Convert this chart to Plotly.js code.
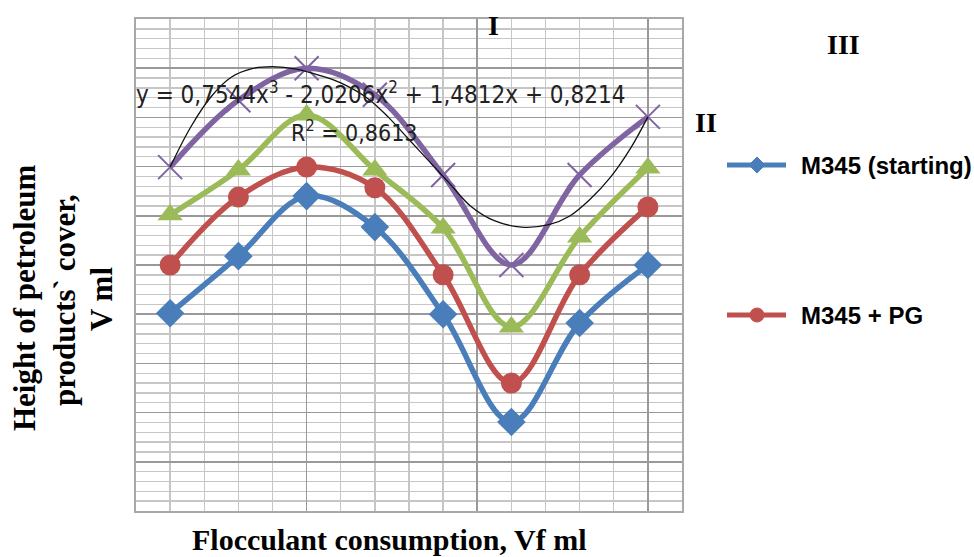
<!DOCTYPE html>
<html><head><meta charset="utf-8">
<script src="https://cdn.plot.ly/plotly-3.0.1.min.js"></script>
<style>html,body{margin:0;padding:0;background:#fff}#chart{width:974px;height:557px}</style>
</head><body><div id="chart"></div>
<script>
// Data (category index 1..8 along the flocculant axis)
const categories = [1, 2, 3, 4, 5, 6, 7, 8];
const m345Starting = [4.02, 5.18, 6.40, 5.77, 4.00, 1.81, 3.82, 5.00];
const m345PG       = [5.00, 6.38, 6.99, 6.57, 4.80, 2.60, 4.80, 6.18];
const seriesIII    = [6.02, 6.93, 8.05, 6.93, 5.75, 3.74, 5.57, 6.97];
const seriesI      = [6.99, 8.35, 9.00, 8.46, 6.83, 5.00, 6.83, 8.01];
// Polynomial trendline
const trendX = [1.0, 1.3, 1.6, 1.9, 2.2, 2.5, 2.85, 3.2, 3.5, 3.9, 4.2, 4.5, 4.8, 5.1, 5.4, 5.75, 6.15, 6.55, 6.85, 7.15, 7.45, 7.75, 8.0];
const trendY = [6.99, 7.80, 8.42, 8.82, 8.99, 9.03, 8.98, 8.85, 8.70, 8.38, 8.00, 7.55, 7.10, 6.65, 6.20, 5.90, 5.77, 5.82, 5.99, 6.33, 6.78, 7.38, 8.01];
const legendNames = ["M345 (starting)", "M345 + PG"];
const equationText = "y = 0,7544x<sup>3</sup> - 2,0206x<sup>2</sup> + 1,4812x + 0,8214";
const r2Text = "R<sup>2</sup> = 0,8613";

const W = 974, H = 557;
const PX = p => p / W, PY = p => 1 - p / H;

const blue = "#4a7ebb", red = "#c0504d", green = "#9bbb59", purple = "#8064a2";

function series(y, color, symbol, size, extra) {
  return Object.assign({
    x: categories, y: y, type: "scatter", mode: "lines+markers",
    line: {color: color, width: 5.5, shape: "spline", smoothing: 1},
    marker: {color: color, symbol: symbol, size: size},
    showlegend: false, hoverinfo: "skip"
  }, extra || {});
}

const traces = [
  series(seriesI, purple, "x-thin", 24, {marker: {color: purple, symbol: "x-thin", size: 24, line: {color: purple, width: 2}}}),
  series(seriesIII, green, "triangle-up", 22),
  series(m345PG, red, "circle", 21),
  series(m345Starting, blue, "diamond", 22),
  {x: trendX, y: trendY, type: "scatter", mode: "lines",
   line: {color: "#111", width: 1.3, shape: "spline", smoothing: 1},
   showlegend: false, hoverinfo: "skip"}
];

const serif = "Liberation Serif, Times New Roman, serif";
const narrow = "Liberation Sans Narrow, DejaVu Sans Condensed, Arial Narrow, sans-serif";
const sans = "Liberation Sans, Arial, sans-serif";

function ann(text, x, y, size, family, extra) {
  return Object.assign({
    text: text, x: PX(x), y: PY(y), xref: "paper", yref: "paper",
    showarrow: false, xanchor: "center", yanchor: "middle",
    font: {family: family, size: size, color: "#000"}
  }, extra || {});
}

const annotations = [
  ann(equationText, 134, 93, 24, narrow, {xanchor: "left", font: {family: narrow, size: 24, color: "#222"}}),
  ann(r2Text, 354, 131, 23, narrow, {font: {family: narrow, size: 23, color: "#222"}}),
  ann("<b>I</b>", 493, 25, 28, serif),
  ann("<b>II</b>", 706, 122, 28, serif),
  ann("<b>III</b>", 843, 45, 28, serif),
  ann("<b>" + legendNames[0] + "</b>", 799, 165, 24, sans, {xanchor: "left"}),
  ann("<b>" + legendNames[1] + "</b>", 799, 315, 24, sans, {xanchor: "left"}),
  ann("<b>Flocculant consumption, Vf ml</b>", 389, 539, 30, serif),
  ann("<b>Height of petroleum</b>", 24, 298, 31, serif, {textangle: -90}),
  ann("<b>products` cover,</b>", 64, 300, 31, serif, {textangle: -90}),
  ann("<b>V ml</b>", 101, 299, 31, serif, {textangle: -90})
];

function diamond(cx, cy, r) {
  return `M ${PX(cx)} ${PY(cy - r)} L ${PX(cx + r)} ${PY(cy)} L ${PX(cx)} ${PY(cy + r)} L ${PX(cx - r)} ${PY(cy)} Z`;
}
const shapes = [
  {type: "line", xref: "paper", yref: "paper", x0: PX(727), x1: PX(786), y0: PY(165), y1: PY(165), line: {color: blue, width: 5}},
  {type: "path", xref: "paper", yref: "paper", path: diamond(757, 165, 8), fillcolor: blue, line: {color: blue, width: 1}},
  {type: "line", xref: "paper", yref: "paper", x0: PX(727), x1: PX(786), y0: PY(315), y1: PY(315), line: {color: red, width: 5}},
  {type: "circle", xref: "paper", yref: "paper", x0: PX(750), x1: PX(764), y0: PY(308), y1: PY(322), fillcolor: red, line: {color: red, width: 1}}
];

const layout = {
  width: W, height: H,
  margin: {l: 0, r: 0, t: 0, b: 0},
  paper_bgcolor: "#fff", plot_bgcolor: "#fff",
  showlegend: false,
  xaxis: {
    domain: [PX(136), PX(682)], range: [0.5, 8.5], autorange: false,
    showticklabels: false, ticks: "", zeroline: false,
    tick0: 0.5, dtick: 2.5, showgrid: true, gridcolor: "#999999", gridwidth: 1.6,
    minor: {tick0: 0.5, dtick: 0.5, showgrid: true, gridcolor: "#c6c6c6", gridwidth: 1.4},
    showline: true, mirror: true, linecolor: "#a8a8a8", linewidth: 1.6
  },
  yaxis: {
    domain: [PY(511), PY(19)], range: [0, 10], autorange: false,
    showticklabels: false, ticks: "", zeroline: false,
    tick0: 0, dtick: 1, showgrid: true, gridcolor: "#999999", gridwidth: 1.6,
    minor: {tick0: 0, dtick: 0.2, showgrid: true, gridcolor: "#c6c6c6", gridwidth: 1.4},
    showline: true, mirror: true, linecolor: "#a8a8a8", linewidth: 1.6
  },
  annotations: annotations,
  shapes: shapes
};

Plotly.newPlot("chart", traces, layout, {displayModeBar: false, staticPlot: true});
</script>
</body></html>
